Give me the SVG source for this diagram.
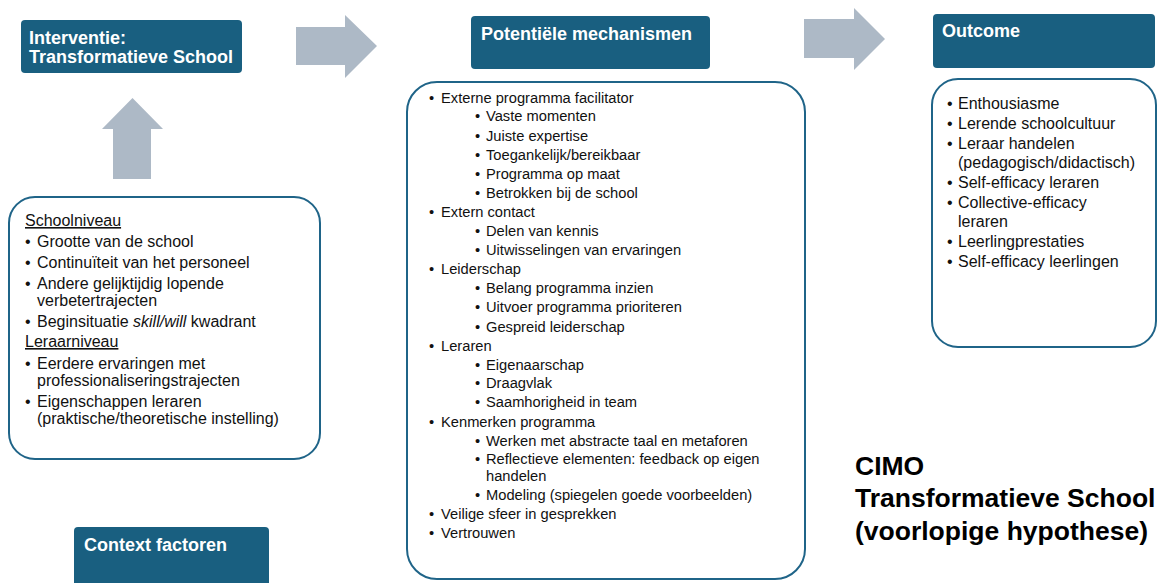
<svg xmlns="http://www.w3.org/2000/svg" width="1164" height="583" viewBox="0 0 1164 583">
<style>
.hdr{fill:#195f80}
.hdrt{font-family:"Liberation Sans",Arial,sans-serif;font-weight:bold;font-size:18px;fill:#ffffff}
.box{fill:#ffffff;stroke:#1f6488;stroke-width:2}
.arrow{fill:#adb9c6}
.t{font-family:"Liberation Sans",Arial,sans-serif;fill:#111111}
.c{font-size:16px}
.m{font-size:14.7px}
.o{font-size:16px}
.big{font-family:"Liberation Sans",Arial,sans-serif;font-weight:bold;font-size:26.5px;fill:#000000}
</style>
<rect width="1164" height="583" fill="#ffffff"/>
<g id="connectors">
<polygon class="arrow" points="296,27 345,27 345,15 377,46 345,78 345,65 296,65"/>
<polygon class="arrow" points="804,19 854,19 854,8 885,39 854,70 854,58 804,58"/>
<polygon class="arrow" points="113,179 113,129 102,129 132.5,98 163,129 151,129 151,179"/>
</g>
<g id="interventie">
<rect class="hdr" x="21" y="20" width="221" height="53" rx="4"/>
<text class="hdrt" x="29" y="44">Interventie:</text>
<text class="hdrt" x="29" y="63">Transformatieve School</text>
</g>
<g id="mechanismen-header">
<rect class="hdr" x="471" y="16" width="239" height="53" rx="4"/>
<text class="hdrt" x="481" y="40">Potentiële mechanismen</text>
</g>
<g id="outcome-header">
<rect class="hdr" x="933" y="14" width="222" height="54" rx="4"/>
<text class="hdrt" x="942" y="37">Outcome</text>
</g>
<g id="context-header">
<rect class="hdr" x="74" y="527" width="195" height="70" rx="4"/>
<text class="hdrt" x="84" y="551">Context factoren</text>
</g>
<g id="context">
<rect class="box" x="9" y="197" width="311" height="262" rx="26"/>
<g class="t c">
<text x="25" y="226" text-decoration="underline">Schoolniveau</text>
<text x="25" y="247">•</text><text x="37" y="247">Grootte van de school</text>
<text x="25" y="268">•</text><text x="37" y="268">Continuïteit van het personeel</text>
<text x="25" y="289">•</text><text x="37" y="289">Andere gelijktijdig lopende</text>
<text x="37" y="306">verbetertrajecten</text>
<text x="25" y="327">•</text><text x="37" y="327">Beginsituatie <tspan font-style="italic">skill/will</tspan> kwadrant</text>
<text x="25" y="347" text-decoration="underline">Leraarniveau</text>
<text x="25" y="369">•</text><text x="37" y="369">Eerdere ervaringen met</text>
<text x="37" y="386">professionaliseringstrajecten</text>
<text x="25" y="407">•</text><text x="37" y="407">Eigenschappen leraren</text>
<text x="37" y="424">(praktische/theoretische instelling)</text>
</g>
</g>
<g id="mechanismen">
<rect class="box" x="407" y="82" width="398" height="497" rx="30"/>
<g class="t m">
<text x="429" y="103">•</text><text x="441" y="103">Externe programma facilitator</text>
<text x="475" y="121">•</text><text x="486" y="121">Vaste momenten</text>
<text x="475" y="141">•</text><text x="486" y="141">Juiste expertise</text>
<text x="475" y="160">•</text><text x="486" y="160">Toegankelijk/bereikbaar</text>
<text x="475" y="179">•</text><text x="486" y="179">Programma op maat</text>
<text x="475" y="198">•</text><text x="486" y="198">Betrokken bij de school</text>
<text x="429" y="217">•</text><text x="441" y="217">Extern contact</text>
<text x="475" y="236">•</text><text x="486" y="236">Delen van kennis</text>
<text x="475" y="255">•</text><text x="486" y="255">Uitwisselingen van ervaringen</text>
<text x="429" y="274">•</text><text x="441" y="274">Leiderschap</text>
<text x="475" y="293">•</text><text x="486" y="293">Belang programma inzien</text>
<text x="475" y="312">•</text><text x="486" y="312">Uitvoer programma prioriteren</text>
<text x="475" y="332">•</text><text x="486" y="332">Gespreid leiderschap</text>
<text x="429" y="351">•</text><text x="441" y="351">Leraren</text>
<text x="475" y="370">•</text><text x="486" y="370">Eigenaarschap</text>
<text x="475" y="388">•</text><text x="486" y="388">Draagvlak</text>
<text x="475" y="407">•</text><text x="486" y="407">Saamhorigheid in team</text>
<text x="429" y="427">•</text><text x="441" y="427">Kenmerken programma</text>
<text x="475" y="446">•</text><text x="486" y="446">Werken met abstracte taal en metaforen</text>
<text x="475" y="464">•</text><text x="486" y="464">Reflectieve elementen: feedback op eigen</text>
<text x="486" y="481">handelen</text>
<text x="475" y="500">•</text><text x="486" y="500">Modeling (spiegelen goede voorbeelden)</text>
<text x="429" y="519">•</text><text x="441" y="519">Veilige sfeer in gesprekken</text>
<text x="429" y="538">•</text><text x="441" y="538">Vertrouwen</text>
</g>
</g>
<g id="outcome">
<rect class="box" x="932" y="79" width="224" height="268" rx="26"/>
<g class="t o">
<text x="947" y="109">•</text><text x="958" y="109">Enthousiasme</text>
<text x="947" y="129">•</text><text x="958" y="129">Lerende schoolcultuur</text>
<text x="947" y="149">•</text><text x="958" y="149">Leraar handelen</text>
<text x="958" y="168">(pedagogisch/didactisch)</text>
<text x="947" y="188">•</text><text x="958" y="188">Self-efficacy leraren</text>
<text x="947" y="208">•</text><text x="958" y="208">Collective-efficacy</text>
<text x="958" y="227">leraren</text>
<text x="947" y="247">•</text><text x="958" y="247">Leerlingprestaties</text>
<text x="947" y="267">•</text><text x="958" y="267">Self-efficacy leerlingen</text>
</g>
</g>
<g id="title">
<text class="big" x="855" y="475">CIMO</text>
<text class="big" x="855" y="507">Transformatieve School</text>
<text class="big" x="855" y="540">(voorlopige hypothese)</text>
</g>
</svg>
